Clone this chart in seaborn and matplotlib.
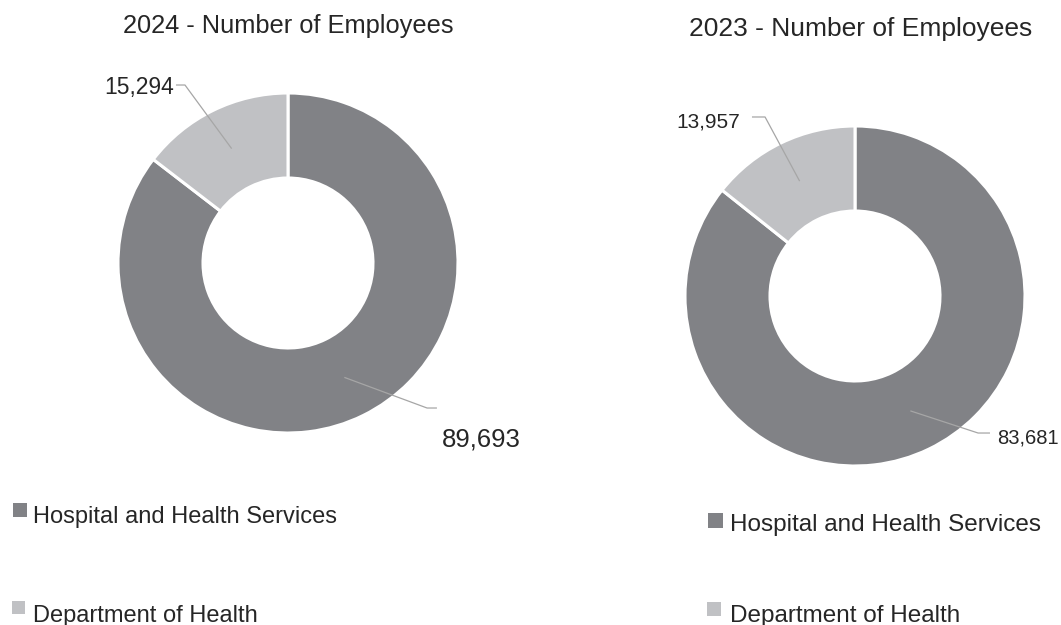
import numpy as np
import matplotlib
matplotlib.use("Agg")
import matplotlib.pyplot as plt
from matplotlib.patches import Rectangle
import seaborn as sns

# Employee counts by group
categories = ["Hospital and Health Services", "Department of Health"]
employees_2024 = [89693, 15294]
employees_2023 = [83681, 13957]
titles = ["2024 - Number of Employees", "2023 - Number of Employees"]

sns.set_theme(style="white")
plt.rcParams["font.family"] = ["Liberation Sans", "DejaVu Sans"]

palette = sns.color_palette(["#818286", "#c0c1c4"])
TEXT = "#262626"
LEADER = "#a6a6a6"

W, H = 1061, 625
fig = plt.figure(figsize=(W / 100, H / 100), dpi=100)
fig.patch.set_facecolor("white")


def fx(px):
    return px / W


def fy(py):
    return 1 - py / H


def donut(box, values, label_cfg):
    left, top, size = box
    ax = fig.add_axes([fx(left), fy(top + size), size / W, size / H])
    wedges, _ = ax.pie(values, colors=palette, startangle=90, counterclock=False,
                       radius=1.0,
                       wedgeprops=dict(width=0.5, edgecolor="white", linewidth=2.2))
    ax.set_xlim(-1, 1)
    ax.set_ylim(-1, 1)
    ax.set_aspect("equal")
    ax.axis("off")
    for w, v, cfg in zip(wedges, values, label_cfg):
        mid = np.deg2rad((w.theta1 + w.theta2) / 2)
        sx, sy = 0.75 * np.cos(mid), 0.75 * np.sin(mid)
        (bx, by), (ex, ey) = cfg["bend"], cfg["end"]
        ax.plot([sx, bx, ex], [sy, by, ey], color=LEADER, lw=0.9,
                clip_on=False, solid_capstyle="butt")
        tx, ty = cfg["text"]
        ax.text(tx, ty, f"{v:,}", ha=cfg["ha"], va="baseline",
                fontsize=cfg["size"], color=TEXT, clip_on=False)
    return ax


donut((118, 93, 340), employees_2024, [
    dict(bend=(0.818, -0.853), end=(0.876, -0.853), text=(0.906, -1.078),
         ha="left", size=18.5),
    dict(bend=(-0.606, 1.047), end=(-0.659, 1.047), text=(-0.67, 0.995),
         ha="right", size=16.5),
])
donut((685, 126, 340), employees_2023, [
    dict(bend=(0.724, -0.806), end=(0.794, -0.806), text=(0.835, -0.866),
         ha="left", size=14.5),
    dict(bend=(-0.529, 1.053), end=(-0.606, 1.053), text=(-0.676, 0.994),
         ha="right", size=15),
])

# Titles
fig.text(fx(288), fy(33.5), titles[0], ha="center", va="baseline",
         fontsize=18.3, color=TEXT)
fig.text(fx(861), fy(35.8), titles[1], ha="center", va="baseline",
         fontsize=19, color=TEXT)

# Legends (one per chart)
legend_rows = [
    # (square left, square top, square size, text x, baseline, font size)
    [(13, 503, 14, 33, 523.3, 17), (12, 601, 13, 33, 621.7, 17)],
    [(708, 513, 15, 730, 530.7, 17.5), (707, 602, 14, 730, 621.7, 17.5)],
]
for rows in legend_rows:
    for (sx, sy, ss, tx, tb, fs), color, name in zip(rows, palette, categories):
        fig.patches.append(Rectangle((fx(sx), fy(sy + ss)), ss / W, ss / H,
                                     transform=fig.transFigure,
                                     facecolor=color, edgecolor="none"))
        fig.text(fx(tx), fy(tb), name, ha="left", va="baseline",
                 fontsize=fs, color=TEXT)

fig.savefig("out.png", dpi=100, facecolor="white")
